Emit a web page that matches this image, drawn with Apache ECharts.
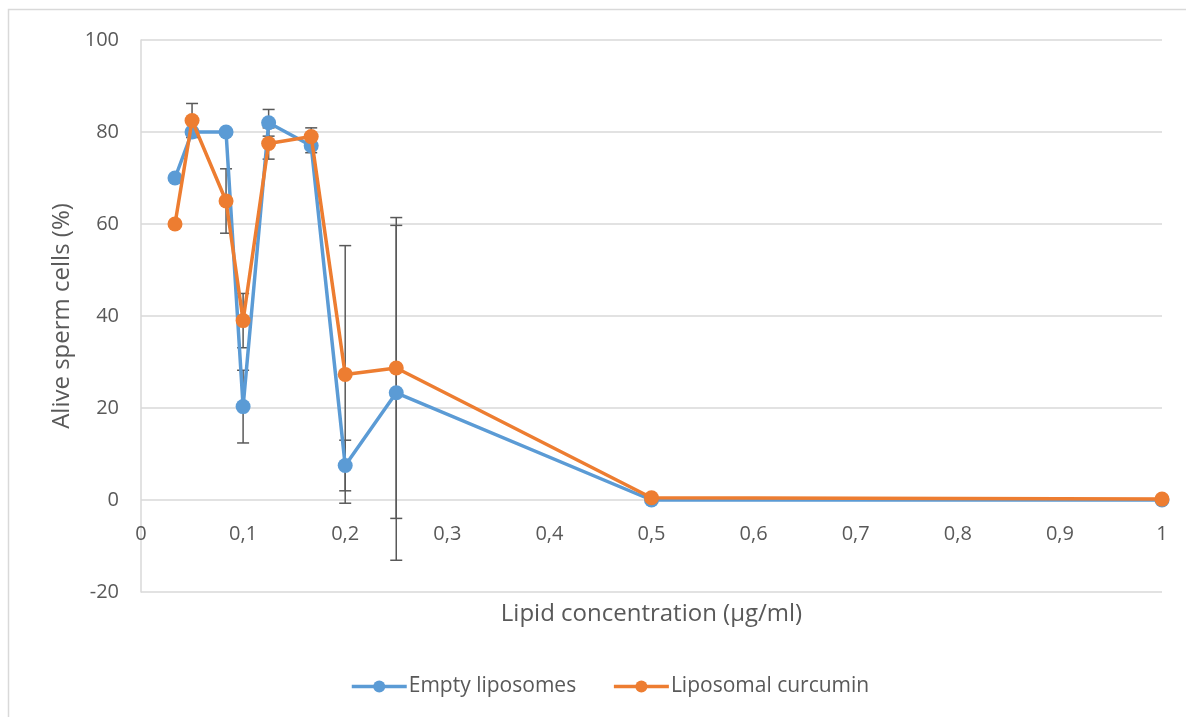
<!DOCTYPE html>
<html>
<head>
<meta charset="utf-8">
<script src="https://cdn.jsdelivr.net/npm/echarts@6/dist/echarts.min.js"></script>
<style>
  html, body { margin: 0; padding: 0; background: #fff; }
  #chart { width: 1186px; height: 717px; }
</style>
</head>
<body>
<div id="chart"></div>
<script>
// Lipid concentration (µg/ml) at each measurement
const concentrations = [0.0333, 0.05, 0.0833, 0.1, 0.125, 0.1667, 0.2, 0.25, 0.5, 1];

// Alive sperm cells (%) per formulation
const emptyLiposomes    = [70, 80, 80, 20.3, 82, 77, 7.5, 23.3, 0, 0];
const liposomalCurcumin = [60, 82.5, 65, 39, 77.5, 79, 27.3, 28.7, 0.5, 0.2];

// Standard deviations (error bars)
const emptyLiposomesErr    = [0, 0, 0, 7.9, 2.9, 1.5, 5.5, 36.4, 0, 0];
const liposomalCurcuminErr = [0, 3.7, 7, 5.9, 3.4, 1.9, 28, 32.7, 0, 0];

const seriesNames = ['Empty liposomes', 'Liposomal curcumin'];
const axisTitles = ['Lipid concentration (µg/ml)', 'Alive sperm cells (%)'];
const colors = ['#5B9BD5', '#ED7D31'];
const FONT = '"Open Sans", Lato, sans-serif';
const TEXT = '#595959';
const GRID = '#D9D9D9';

const PLOT = { left: 141, right: 24, top: 40, bottom: 125 };
const WIDTH = 1186;

function pairs(xs, ys) { return xs.map((x, i) => [x, ys[i]]); }
function errRows(xs, ys, es) { return xs.map((x, i) => [x, ys[i] - es[i], ys[i] + es[i]]); }

function errorBarSeries(name, rows) {
  return {
    type: 'custom',
    name: name,
    z: 1,
    silent: true,
    data: rows,
    encode: { x: 0, y: [1, 2] },
    renderItem: function (params, api) {
      const x = api.value(0), lo = api.value(1), hi = api.value(2);
      if (hi - lo <= 0) return null;
      const pLo = api.coord([x, lo]);
      const pHi = api.coord([x, hi]);
      const cap = 6;
      const style = { stroke: '#595959', lineWidth: 1.5 };
      return {
        type: 'group',
        children: [
          { type: 'line', shape: { x1: pLo[0], y1: pLo[1], x2: pHi[0], y2: pHi[1] }, style },
          { type: 'line', shape: { x1: pLo[0] - cap, y1: pLo[1], x2: pLo[0] + cap, y2: pLo[1] }, style },
          { type: 'line', shape: { x1: pHi[0] - cap, y1: pHi[1], x2: pHi[0] + cap, y2: pHi[1] }, style }
        ]
      };
    }
  };
}

function lineSeries(name, data, color, z) {
  return {
    type: 'line',
    name: name,
    data: data,
    z: z,
    symbol: 'circle',
    symbolSize: 15,
    showSymbol: true,
    color: color,
    lineStyle: { width: 3.5, color: color },
    itemStyle: { color: color },
    emphasis: { disabled: true }
  };
}

const chart = echarts.init(document.getElementById('chart'), null, { renderer: 'canvas' });

chart.setOption({
  animation: false,
  backgroundColor: '#fff',
  textStyle: { fontFamily: FONT },
  graphic: [
    {
      type: 'rect',
      silent: true,
      shape: { x: 8.5, y: 9.5, width: 1300, height: 900 },
      style: { fill: 'none', stroke: GRID, lineWidth: 1.5 }
    },
    {
      // x-axis title, centred under the plot area
      type: 'text',
      silent: true,
      x: (PLOT.left + WIDTH - PLOT.right) / 2,
      y: 614,
      style: {
        text: axisTitles[0], font: '24px ' + FONT, fill: TEXT,
        align: 'center', verticalAlign: 'middle'
      }
    }
  ],
  grid: Object.assign({ outerBoundsMode: 'none', containLabel: false }, PLOT),
  legend: {
    data: seriesNames,
    top: 671,
    left: 345,
    itemGap: 36,
    itemWidth: 55,
    itemHeight: 15,
    lineStyle: { width: 3.5 },
    textStyle: { fontFamily: FONT, fontSize: 21, color: TEXT, padding: [0, 0, 0, -3] }
  },
  xAxis: {
    type: 'value',
    min: 0,
    max: 1,
    interval: 0.1,
    axisLine: { show: false },
    axisTick: { show: false },
    splitLine: { show: false },
    // tick labels sit just under the zero line, inside the plot area
    axisLabel: {
      inside: true,
      fontFamily: FONT, fontSize: 20, color: TEXT, margin: 48,
      formatter: v => String(Math.round(v * 10) / 10).replace('.', ',')
    }
  },
  yAxis: {
    type: 'value',
    min: -20,
    max: 100,
    interval: 20,
    name: axisTitles[1],
    nameLocation: 'middle',
    nameGap: 66,
    nameRotate: 90,
    nameTextStyle: { fontFamily: FONT, fontSize: 24, color: TEXT },
    axisLine: { show: true, lineStyle: { color: GRID, width: 1.5 } },
    axisTick: { show: false },
    splitLine: { show: true, lineStyle: { color: GRID, width: 1.5 } },
    axisLabel: { fontFamily: FONT, fontSize: 20, color: TEXT, margin: 22 }
  },
  series: [
    lineSeries(seriesNames[0], pairs(concentrations, emptyLiposomes), colors[0], 3),
    lineSeries(seriesNames[1], pairs(concentrations, liposomalCurcumin), colors[1], 4),
    errorBarSeries(seriesNames[0], errRows(concentrations, emptyLiposomes, emptyLiposomesErr)),
    errorBarSeries(seriesNames[1], errRows(concentrations, liposomalCurcumin, liposomalCurcuminErr))
  ]
});
</script>
</body>
</html>
